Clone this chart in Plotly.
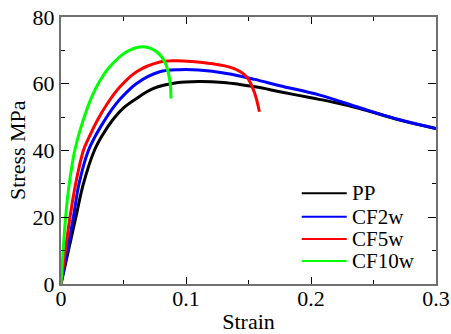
import plotly.graph_objects as go

# ---- data ----
pp_strain = [0, 0.0117, 0.0179, 0.0267, 0.033, 0.041, 0.050, 0.0592, 0.074, 0.0925, 0.11, 0.13, 0.143, 0.16, 0.175, 0.2, 0.22, 0.239, 0.271, 0.3]
pp_stress = [0, 19.7, 30, 40, 44.5, 49, 52.8, 55.3, 58.6, 60.3, 60.7, 60.4, 59.8, 58.8, 57.6, 55.8, 54.3, 52.6, 49.1, 46.6]

cf2_strain = [0, 0.0099, 0.0144, 0.0219, 0.027, 0.034, 0.041, 0.0475, 0.0605, 0.079, 0.095, 0.11, 0.1325, 0.155, 0.175, 0.207, 0.239, 0.271, 0.3]
cf2_stress = [0, 20, 30, 40, 44, 48.5, 52.5, 55.5, 60.1, 63.6, 64.2, 64.1, 63.1, 61.3, 59.4, 56.6, 52.8, 49.2, 46.6]

cf5_strain = [0, 0.0072, 0.0117, 0.0179, 0.022, 0.029, 0.037, 0.047, 0.0605, 0.079, 0.09, 0.119, 0.138, 0.1485, 0.155, 0.1587]
cf5_stress = [0, 20, 30, 40, 43.6, 49, 54, 59, 63.6, 66.5, 66.9, 66.1, 64.6, 62.1, 57.1, 51.6]

cf10_strain = [0, 0.0037, 0.0066, 0.011, 0.016, 0.0245, 0.031, 0.039, 0.0525, 0.066, 0.0765, 0.083, 0.087, 0.088]
cf10_stress = [0, 20, 30, 40, 47, 56, 60.8, 65.1, 69.6, 71.1, 69.6, 66.6, 61.1, 55.6]

series_names = ["PP", "CF2w", "CF5w", "CF10w"]
series_colors = ["#000000", "#0000ff", "#ff0000", "#00ff00"]
series_x = [pp_strain, cf2_strain, cf5_strain, cf10_strain]
series_y = [pp_stress, cf2_stress, cf5_stress, cf10_stress]

x_tickvals = [0, 0.1, 0.2, 0.3]
x_ticktext = ["0", "0.1", "0.2", "0.3"]
y_tickvals = [0, 20, 40, 60, 80]
y_ticktext = ["0", "20", "40", "60", "80"]

FONT = "Liberation Serif"
AXIS_COLOR = "#707070"
FS = 22

fig = go.Figure()
for name, color, xs, ys in zip(series_names, series_colors, series_x, series_y):
    fig.add_trace(go.Scatter(
        x=xs, y=ys, mode="lines", name=name, showlegend=False,
        line=dict(color=color, width=3, shape="spline", smoothing=1.0),
    ))

# legend drawn as paper-positioned samples + labels
legend_y = [0.340, 0.252, 0.169, 0.086]
for name, color, ly in zip(series_names, series_colors, legend_y):
    fig.add_shape(type="line", xref="paper", yref="paper",
                  x0=0.642, x1=0.762, y0=ly, y1=ly,
                  line=dict(color=color, width=2))
    fig.add_annotation(xref="paper", yref="paper", x=0.772, y=ly,
                       xanchor="left", yanchor="middle", showarrow=False,
                       text=name, font=dict(family=FONT, size=21, color="#000000"),
                       borderpad=0)

# y-axis title placed precisely
fig.add_annotation(xref="paper", yref="paper", x=-0.116, y=0.5,
                   xanchor="center", yanchor="middle", showarrow=False,
                   textangle=-90, text="Stress MPa",
                   font=dict(family=FONT, size=FS, color="#000000"))

fig.update_layout(
    width=451, height=334,
    margin=dict(l=61, r=15, t=17, b=50),
    paper_bgcolor="white", plot_bgcolor="white",
    font=dict(family=FONT, color="#000000", size=FS),
    showlegend=False,
)

fig.update_xaxes(
    range=[0, 0.3], showgrid=False, zeroline=False,
    showline=True, linecolor=AXIS_COLOR, linewidth=2, mirror="allticks",
    ticks="inside", ticklen=7, tickwidth=1, tickcolor="#000000",
    tickvals=x_tickvals, ticktext=x_ticktext,
    tickfont=dict(family=FONT, size=FS), ticklabelstandoff=-6,
    ticklabeloverflow="allow",
    minor=dict(ticks="inside", ticklen=4, tickwidth=1, tickcolor="#000000", dtick=0.05, showgrid=False),
    title=dict(text="Strain", font=dict(family=FONT, size=FS), standoff=4),
    automargin=False,
)
fig.update_yaxes(
    range=[0, 80], showgrid=False, zeroline=False,
    showline=True, linecolor=AXIS_COLOR, linewidth=2, mirror="allticks",
    ticks="inside", ticklen=8, tickwidth=1, tickcolor="#000000",
    tickvals=y_tickvals, ticktext=y_ticktext,
    tickfont=dict(family=FONT, size=FS),
    ticklabeloverflow="allow",
    minor=dict(ticks="inside", ticklen=4, tickwidth=1, tickcolor="#000000", dtick=10, showgrid=False),
    automargin=False,
)

fig.write_html("out.html", config={"displayModeBar": False},
               post_script="document.body.style.margin='0';")
